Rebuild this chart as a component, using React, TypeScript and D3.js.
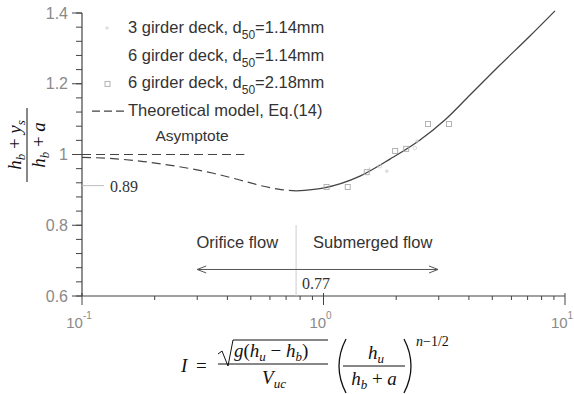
import React from 'react';
import * as d3 from 'd3';

const W = 574;
const H = 394;

// ---- data ----
const xMajorTicks = [0.1, 1, 10];
const xExponents = ['-1', '0', '1'];
const xMinorTicks = [0.2, 0.3, 0.4, 0.5, 0.6, 0.7, 0.8, 0.9, 2, 3, 4, 5, 6, 7, 8, 9];
const yMajorTicks = [0.6, 0.8, 1.0, 1.2, 1.4];
const yTickLabels = ['0.6', '0.8', '1', '1.2', '1.4'];
const yMinorTicks = d3.range(0, 21).map((i) => 0.6 + i * 0.04);

// Theoretical model, orifice part (dashed)
const modelOrifice: [number, number][] = [
  [0.1, 0.992], [0.13, 0.989], [0.18, 0.98], [0.25, 0.966], [0.35, 0.947],
  [0.45, 0.928], [0.55, 0.912], [0.65, 0.902], [0.77, 0.897],
];
// Theoretical model, submerged part (solid)
const modelSubmerged: [number, number][] = [
  [0.77, 0.897], [0.995, 0.905], [1.416, 0.939], [1.885, 0.987], [2.51, 1.041],
  [3.18, 1.0975], [4.04, 1.168], [5.38, 1.253], [7.16, 1.335], [9.09, 1.406],
];
const asymptoteLine: [number, number][] = [[0.1, 1.0], [0.47, 1.0]];

const deck3d114: [number, number][] = [[1.55, 0.958], [1.83, 0.953], [2.44, 1.038]];
const deck6d114: [number, number][] = [[1.71, 0.967], [2.39, 1.018]];
const deck6d218: [number, number][] = [
  [1.03, 0.908], [1.26, 0.908], [1.51, 0.95], [1.98, 1.01], [2.2, 1.016], [2.71, 1.086], [3.31, 1.086],
];

const legendEntries = [
  { pre: '3 girder deck, d', sub: '50', post: '=1.14mm', kind: 'faint' },
  { pre: '6 girder deck, d', sub: '50', post: '=1.14mm', kind: 'none' },
  { pre: '6 girder deck, d', sub: '50', post: '=2.18mm', kind: 'square' },
  { pre: 'Theoretical model, Eq.(14)', sub: '', post: '', kind: 'dash' },
];

const transitionI = 0.77;
const minimumLabel = '0.89';
const minimumGuideY = 0.912;
const arrowRange: [number, number] = [0.3, 2.98];
const arrowY = 0.675;

// ---- layout ----
const x = d3.scaleLog().domain([0.1, 10]).range([82, 565]);
const y = d3.scaleLinear().domain([0.6, 1.4]).range([296, 13]);

const SANS = '"Liberation Sans", Arial, Helvetica, sans-serif';
const SERIF = '"Liberation Serif", "Times New Roman", serif';
const AXIS = '#444';
const TICKTXT = '#8a8a8a';
const TXT = '#333';

const line = d3
  .line<[number, number]>()
  .x((d) => x(d[0]))
  .y((d) => y(d[1]))
  .curve(d3.curveMonotoneX);

export default function App() {
  const x0 = x.range()[0];
  const y0 = y.range()[0];
  const ax1 = x(arrowRange[0]);
  const ax2 = x(arrowRange[1]);
  const ay = y(arrowY);
  const xt = x(transitionI);

  return (
    <svg
      width={W}
      height={H}
      viewBox={`0 0 ${W} ${H}`}
      style={{ position: 'absolute', left: 0, top: 0, background: '#fff' }}
    >
      <rect width={W} height={H} fill="#fff" />

      {/* Axes */}
      <line x1={x0} x2={x(10)} y1={y0} y2={y0} stroke={AXIS} strokeWidth={1.2} />
      <line x1={x0} x2={x0} y1={y0} y2={y(1.4)} stroke={AXIS} strokeWidth={1.2} />

      {/* y ticks */}
      {yMinorTicks.map((v, i) => (
        <line key={'ym' + i} x1={x0 - 6} x2={x0} y1={y(v)} y2={y(v)} stroke={AXIS} strokeWidth={1} />
      ))}
      {yMajorTicks.map((v, i) => (
        <g key={'yM' + i}>
          <line x1={x0 - 10} x2={x0} y1={y(v)} y2={y(v)} stroke={AXIS} strokeWidth={1} />
          <text
            x={x0 - 14}
            y={y(v) + 5.5}
            textAnchor="end"
            fontFamily={SANS}
            fontSize={16}
            fill={TICKTXT}
          >
            {yTickLabels[i]}
          </text>
        </g>
      ))}

      {/* x ticks */}
      {xMinorTicks.map((v, i) => (
        <line key={'xm' + i} x1={x(v)} x2={x(v)} y1={y0} y2={y0 + 4} stroke={AXIS} strokeWidth={1} />
      ))}
      {xMajorTicks.map((v, i) => (
        <g key={'xM' + i}>
          <line x1={x(v)} x2={x(v)} y1={y0 - 3} y2={y0 + 9} stroke={AXIS} strokeWidth={1} />
          <text
            x={x(v) - 3}
            y={y0 + 32}
            textAnchor="middle"
            fontFamily={SANS}
            fontSize={15}
            fill={TICKTXT}
          >
            10
            <tspan dy={-9} fontSize={10}>
              {xExponents[i]}
            </tspan>
          </text>
        </g>
      ))}

      {/* Asymptote */}
      <path d={line(asymptoteLine) || ''} fill="none" stroke={AXIS} strokeWidth={1.1} strokeDasharray="9,5" />
      <text x={192} y={141} textAnchor="middle" fontFamily={SANS} fontSize={15.5} fill={TXT}>
        Asymptote
      </text>

      {/* Theoretical model */}
      <path d={line(modelOrifice) || ''} fill="none" stroke={AXIS} strokeWidth={1.2} strokeDasharray="9,5" />
      <path d={line(modelSubmerged) || ''} fill="none" stroke={AXIS} strokeWidth={1.3} />

      {/* minimum guide */}
      <line x1={x0} x2={x0 + 22} y1={y(minimumGuideY)} y2={y(minimumGuideY)} stroke="#bbb" strokeWidth={1} />
      <text x={x0 + 28} y={y(minimumGuideY) + 6} fontFamily={SERIF} fontSize={16} fill={TXT}>
        {minimumLabel}
      </text>

      {/* transition */}
      <line x1={xt} x2={xt} y1={225} y2={y0} stroke="#ccc" strokeWidth={1} />
      <text x={xt - 18} y={248} textAnchor="end" fontFamily={SANS} fontSize={16.5} fill={TXT}>
        Orifice flow
      </text>
      <text x={xt + 17} y={248} textAnchor="start" fontFamily={SANS} fontSize={16.5} fill={TXT}>
        Submerged flow
      </text>
      <line x1={ax1} x2={ax2} y1={ay} y2={ay} stroke="#555" strokeWidth={1} />
      <path d={`M${ax1 + 9},${ay - 3.5} L${ax1},${ay} L${ax1 + 9},${ay + 3.5}`} fill="none" stroke="#555" strokeWidth={1} />
      <path d={`M${ax2 - 9},${ay - 3.5} L${ax2},${ay} L${ax2 - 9},${ay + 3.5}`} fill="none" stroke="#555" strokeWidth={1} />
      <text x={xt + 6} y={289} fontFamily={SERIF} fontSize={16} fill={TXT}>
        {String(transitionI)}
      </text>

      {/* data points */}
      {deck3d114.map((d, i) => (
        <g key={'a' + i} stroke="#c8c8c8" strokeWidth={0.8}>
          <line x1={x(d[0]) - 2} x2={x(d[0]) + 2} y1={y(d[1])} y2={y(d[1])} />
          <line x1={x(d[0])} x2={x(d[0])} y1={y(d[1]) - 2} y2={y(d[1]) + 2} />
        </g>
      ))}
      {deck6d114.map((d, i) => (
        <circle key={'b' + i} cx={x(d[0])} cy={y(d[1])} r={1.8} fill="none" stroke="#d0d0d0" strokeWidth={0.8} />
      ))}
      {deck6d218.map((d, i) => (
        <rect
          key={'c' + i}
          x={x(d[0]) - 2.5}
          y={y(d[1]) - 2.5}
          width={5}
          height={5}
          fill="none"
          stroke="#aaa"
          strokeWidth={0.9}
        />
      ))}

      {/* legend */}
      {legendEntries.map((e, i) => {
        const by = 33 + i * 27.7;
        const cy = by - 5;
        return (
          <g key={'lg' + i}>
            {e.kind === 'faint' && (
              <g stroke="#cfcfcf" strokeWidth={0.8}>
                <line x1={105} x2={109} y1={cy} y2={cy} />
                <line x1={107} x2={107} y1={cy - 2} y2={cy + 2} />
              </g>
            )}
            {e.kind === 'square' && (
              <rect x={105} y={cy - 2} width={5} height={5} fill="none" stroke="#aaa" strokeWidth={0.9} />
            )}
            {e.kind === 'dash' && (
              <line x1={92} x2={126} y1={cy} y2={cy} stroke={AXIS} strokeWidth={1.1} strokeDasharray="8,4" />
            )}
            <text x={128} y={by} fontFamily={SANS} fontSize={16.5} fill={TXT}>
              {e.pre}
              {e.sub && (
                <tspan dy={6} fontSize={12}>
                  {e.sub}
                </tspan>
              )}
              {e.post && <tspan dy={e.sub ? -6 : 0}>{e.post}</tspan>}
            </text>
          </g>
        );
      })}

      {/* y-axis label: (h_b + y_s)/(h_b + a) */}
      <g transform="translate(27,145) rotate(-90)" fontFamily={SERIF} fontSize={19} fill="#111">
        <text x={0} y={-6} textAnchor="middle">
          <tspan fontStyle="italic">h</tspan>
          <tspan fontStyle="italic" fontSize={13} dy={4}>b</tspan>
          <tspan dy={-4}> + </tspan>
          <tspan fontStyle="italic">y</tspan>
          <tspan fontStyle="italic" fontSize={13} dy={4}>s</tspan>
        </text>
        <line x1={-37} x2={37} y1={0} y2={0} stroke="#111" strokeWidth={1} />
        <text x={0} y={18} textAnchor="middle">
          <tspan fontStyle="italic">h</tspan>
          <tspan fontStyle="italic" fontSize={13} dy={4}>b</tspan>
          <tspan dy={-4}> + </tspan>
          <tspan fontStyle="italic">a</tspan>
        </text>
      </g>

      {/* x-axis label formula */}
      <g fontFamily={SERIF} fontSize={19} fill="#111">
        <text x={181} y={372} fontStyle="italic">I</text>
        <text x={196} y={372}>=</text>
        <path d="M218,354 L222,351 L228,366 L233,340 L328,340" fill="none" stroke="#111" strokeWidth={1} />
        <text x={234} y={357}>
          <tspan fontStyle="italic">g</tspan>
          <tspan>(</tspan>
          <tspan fontStyle="italic">h</tspan>
          <tspan fontStyle="italic" fontSize={13} dy={4}>u</tspan>
          <tspan dy={-4}> − </tspan>
          <tspan fontStyle="italic">h</tspan>
          <tspan fontStyle="italic" fontSize={13} dy={4}>b</tspan>
          <tspan dy={-4}>)</tspan>
        </text>
        <line x1={218} x2={328} y1={364} y2={364} stroke="#111" strokeWidth={1} />
        <text x={274} y={384} textAnchor="middle">
          <tspan fontStyle="italic">V</tspan>
          <tspan fontStyle="italic" fontSize={13} dy={4}>uc</tspan>
        </text>
        <path d="M346,339 Q332,366 346,393" fill="none" stroke="#111" strokeWidth={1.3} />
        <text x={376} y={359} textAnchor="middle">
          <tspan fontStyle="italic">h</tspan>
          <tspan fontStyle="italic" fontSize={13} dy={4}>u</tspan>
        </text>
        <line x1={343} x2={405} y1={366} y2={366} stroke="#111" strokeWidth={1} />
        <text x={374} y={385} textAnchor="middle">
          <tspan fontStyle="italic">h</tspan>
          <tspan fontStyle="italic" fontSize={13} dy={4}>b</tspan>
          <tspan dy={-4}> + </tspan>
          <tspan fontStyle="italic">a</tspan>
        </text>
        <path d="M404,339 Q418,366 404,393" fill="none" stroke="#111" strokeWidth={1.3} />
        <text x={416} y={346} fontSize={14}>
          <tspan fontStyle="italic">n</tspan>
          <tspan>−1/2</tspan>
        </text>
      </g>
    </svg>
  );
}
